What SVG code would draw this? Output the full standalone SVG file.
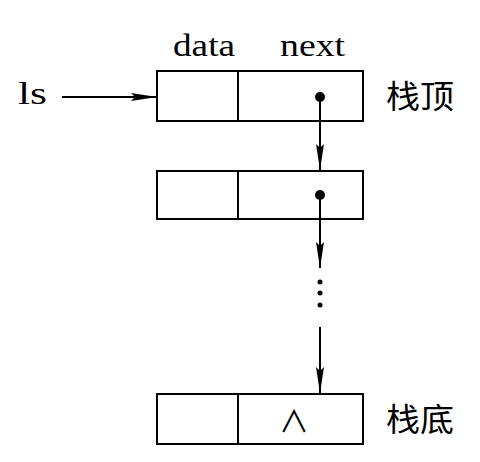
<svg xmlns="http://www.w3.org/2000/svg" width="480" height="462" viewBox="0 0 480 462">
<style>
.box{fill:#fff;stroke:#000;stroke-width:2}
.ln{stroke:#000;stroke-width:2;fill:none}
.lat{font-family:"Liberation Serif","Times New Roman",serif;font-size:32px;fill:#000}
.cjk{font-family:"Noto Sans CJK SC","Noto Sans CJK JP",serif;font-size:32px;fill:#000}
</style>
<defs>
<marker id="ah" viewBox="0 0 26 10" refX="26" refY="5" markerWidth="26" markerHeight="10" markerUnits="userSpaceOnUse" orient="auto">
<path d="M0,1 L26,5 L0,9 L4,5 Z" fill="#000"/>
</marker>
</defs>
<rect width="480" height="462" fill="#fff"/>
<g id="labels">
<text class="lat" x="173" y="56" textLength="62" lengthAdjust="spacingAndGlyphs">data</text>
<text class="lat" x="280" y="56" textLength="65" lengthAdjust="spacingAndGlyphs">next</text>
<text class="lat" x="18" y="104" textLength="29" lengthAdjust="spacingAndGlyphs">ls</text>
</g>
<g id="node-top">
<rect class="box" x="157" y="71" width="206" height="50"/>
<line class="ln" x1="238" y1="71" x2="238" y2="121"/>
<circle cx="320" cy="97" r="5" fill="#000"/>
<text class="cjk" x="386" y="108" textLength="68" lengthAdjust="spacingAndGlyphs">栈顶</text>
</g>
<g id="node-2">
<rect class="box" x="157" y="171" width="206" height="48"/>
<line class="ln" x1="238" y1="171" x2="238" y2="219"/>
<circle cx="320" cy="195" r="5" fill="#000"/>
</g>
<g id="node-bottom">
<rect class="box" x="157" y="394" width="206" height="50"/>
<line class="ln" x1="238" y1="394" x2="238" y2="444"/>
<text x="294" y="432" text-anchor="middle" font-family="Noto Sans CJK SC,sans-serif" font-size="30" fill="#000">∧</text>
<text class="cjk" x="386" y="431" textLength="68" lengthAdjust="spacingAndGlyphs">栈底</text>
</g>
<g id="connectors">
<line class="ln" x1="62" y1="97" x2="157" y2="97" marker-end="url(#ah)"/>
<line class="ln" x1="320" y1="97" x2="320" y2="170" marker-end="url(#ah)"/>
<line class="ln" x1="320" y1="195" x2="320" y2="268" marker-end="url(#ah)"/>
<circle cx="320" cy="282" r="2.5" fill="#000"/>
<circle cx="320" cy="293" r="2.5" fill="#000"/>
<circle cx="320" cy="305" r="2.5" fill="#000"/>
<line class="ln" x1="320" y1="327" x2="320" y2="393" marker-end="url(#ah)"/>
</g>
</svg>
